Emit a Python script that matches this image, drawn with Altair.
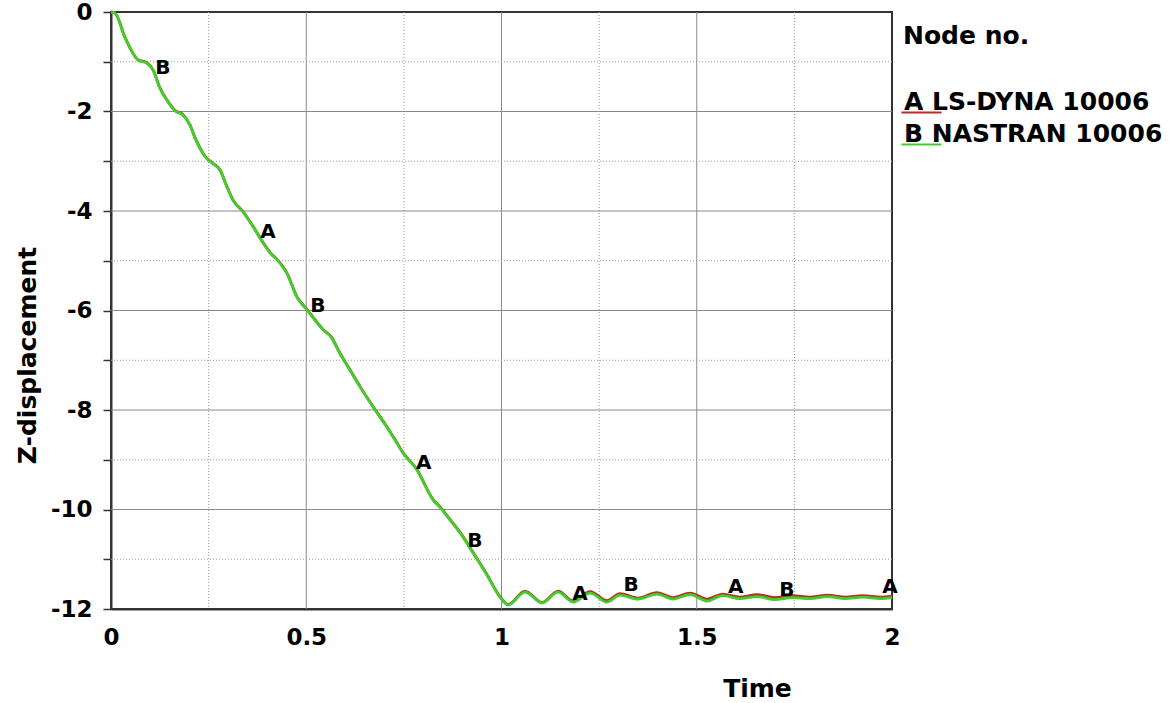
import altair as alt
import pandas as pd

# ---- data ----
t_nastran = [0.0, 0.01, 0.036, 0.054, 0.069, 0.092, 0.108, 0.125, 0.146, 0.164, 0.184, 0.202,
             0.215, 0.241, 0.259, 0.279, 0.297, 0.312, 0.338, 0.364, 0.389, 0.407, 0.433, 0.45,
             0.476, 0.502, 0.543, 0.565, 0.585, 0.612, 0.638, 0.671, 0.706, 0.727, 0.748, 0.783,
             0.825, 0.842, 0.868, 0.894, 0.927, 0.963, 0.996,
             1.017, 1.06, 1.104, 1.145, 1.183, 1.227, 1.27, 1.303, 1.35, 1.398, 1.439, 1.483,
             1.526, 1.567, 1.61, 1.655, 1.70, 1.745, 1.79, 1.835, 1.88, 1.925, 1.97, 2.0]
z_nastran = [0.0, -0.02, -0.52, -0.80, -0.965, -1.03, -1.17, -1.53, -1.81, -1.99, -2.07, -2.27,
             -2.53, -2.91, -3.04, -3.18, -3.52, -3.78, -4.02, -4.32, -4.64, -4.84, -5.05, -5.25,
             -5.73, -5.99, -6.39, -6.55, -6.85, -7.2, -7.54, -7.94, -8.34, -8.6, -8.87, -9.2,
             -9.81, -9.95, -10.21, -10.47, -10.87, -11.32, -11.76,
             -11.92, -11.66, -11.88, -11.66, -11.86, -11.68, -11.86, -11.72, -11.80, -11.70, -11.80, -11.71,
             -11.84, -11.73, -11.79, -11.75, -11.81, -11.77, -11.79, -11.75, -11.79, -11.76, -11.79, -11.77]

t_lsdyna = t_nastran
z_lsdyna = [0.0, -0.02, -0.51, -0.80, -0.96, -1.02, -1.17, -1.52, -1.80, -1.98, -2.06, -2.27,
            -2.52, -2.90, -3.03, -3.17, -3.51, -3.77, -4.01, -4.31, -4.63, -4.83, -5.04, -5.24,
            -5.72, -5.98, -6.38, -6.54, -6.84, -7.19, -7.53, -7.93, -8.33, -8.59, -8.86, -9.19,
            -9.80, -9.94, -10.20, -10.46, -10.86, -11.31, -11.75,
            -11.91, -11.64, -11.87, -11.64, -11.84, -11.65, -11.83, -11.69, -11.78, -11.67, -11.77, -11.68,
            -11.80, -11.70, -11.76, -11.71, -11.77, -11.73, -11.76, -11.72, -11.76, -11.73, -11.76, -11.74]

series_names = ["A LS-DYNA 10006", "B NASTRAN 10006"]
series_colors = ["#c0282a", "#3fd12a"]
legend_title = ["Node no."]

label_letters = ["B", "A", "B", "A", "B", "A", "B", "A", "B", "A"]
label_t = [0.133, 0.402, 0.530, 0.801, 0.932, 1.201, 1.332, 1.600, 1.731, 1.995]
label_z = [-1.13, -4.42, -5.91, -9.07, -10.63, -11.70, -11.52, -11.56, -11.62, -11.56]

x_major = [0.5, 1.0, 1.5]
x_minor = [0.25, 0.75, 1.25, 1.75]
y_major = [-2, -4, -6, -8, -10]
y_minor = [-1, -3, -5, -7, -9, -11]

x_ticks = [0, 0.5, 1, 1.5, 2]
y_ticks = list(range(0, -13, -1))

FONT = "DejaVu Sans"

lines_df = pd.concat([
    pd.DataFrame({"t": t_lsdyna, "z": z_lsdyna, "series": series_names[0]}),
    pd.DataFrame({"t": t_nastran, "z": z_nastran, "series": series_names[1]}),
])
labels_df = pd.DataFrame({"t": label_t, "z": label_z, "letter": label_letters})

x_scale = alt.Scale(domain=[0, 2], nice=False, zero=False)
y_scale = alt.Scale(domain=[-12, 0], nice=False, zero=False)

x_axis = alt.Axis(values=x_ticks, labelExpr="'' + datum.value", title="Time",
                  grid=False, ticks=False, labelPadding=17, labelFlush=False, labelOverlap=False,
                  labelFont=FONT, labelFontSize=23, labelFontWeight="bold", labelColor="black",
                  titleFont=FONT, titleFontSize=25, titleFontWeight="bold", titleColor="black",
                  titleX=646, titleY=79, titleBaseline="middle", titleAlign="center",
                  domainColor="#333333", domainWidth=2)
y_axis = alt.Axis(values=y_ticks, labelExpr="datum.value % 2 == 0 ? '' + datum.value : ''",
                  title="Z-displacement", grid=False, tickSize=8, tickColor="#333333", tickWidth=1.5,
                  labelPadding=11, labelFlush=False, labelOverlap=False,
                  labelFont=FONT, labelFontSize=23, labelFontWeight="bold", labelColor="black",
                  titleFont=FONT, titleFontSize=25, titleFontWeight="bold", titleColor="black",
                  titleX=-84, titleY=343, titleAngle=270, titleBaseline="middle", titleAlign="center",
                  domainColor="#333333", domainWidth=2)


def vrules(vals, dash, color):
    return alt.Chart(pd.DataFrame({"t": vals})).mark_rule(
        color=color, strokeWidth=1, strokeDash=dash).encode(
        x=alt.X("t:Q", scale=x_scale, axis=x_axis))


def hrules(vals, dash, color):
    return alt.Chart(pd.DataFrame({"z": vals})).mark_rule(
        color=color, strokeWidth=1, strokeDash=dash).encode(
        y=alt.Y("z:Q", scale=y_scale, axis=y_axis))


grid = (vrules(x_minor, [1, 2], "#9a9a9a") + vrules(x_major, [1, 0], "#8a8a8a") +
        hrules(y_minor, [1, 2], "#9a9a9a") + hrules(y_major, [1, 0], "#8a8a8a"))

lines = alt.Chart(lines_df).mark_line(strokeWidth=2.8, interpolate="monotone").encode(
    x=alt.X("t:Q", scale=x_scale, axis=x_axis),
    y=alt.Y("z:Q", scale=y_scale, axis=y_axis),
    color=alt.Color("series:N", scale=alt.Scale(domain=series_names, range=series_colors),
                    legend=alt.Legend(orient="none", legendX=768, legendY=85, title=None,
                                      padding=0,
                                      labelFont=FONT, labelFontSize=25, labelFontWeight="bold",
                                      labelColor="black", labelBaseline="alphabetic",
                                      labelLimit=500, labelOffset=0,
                                      symbolType="M 5 1.5 L 25 1.5", symbolSize=16,
                                      symbolStrokeWidth=2,
                                      rowPadding=4, direction="vertical")),
    order=alt.Order("t:Q"),
)

letters = alt.Chart(labels_df).mark_text(
    font=FONT, fontSize=20, fontWeight="bold", color="black", align="center", baseline="middle"
).encode(
    x=alt.X("t:Q", scale=x_scale, axis=x_axis),
    y=alt.Y("z:Q", scale=y_scale, axis=y_axis),
    text="letter:N",
)

# legend heading, placed beside the plot like the legend itself
legend_heading = alt.Chart(pd.DataFrame({"txt": legend_title})).mark_text(
    font=FONT, fontSize=25, fontWeight="bold", color="black", align="left", baseline="alphabetic"
).encode(
    x=alt.value(792), y=alt.value(32), text="txt:N",
)

chart = alt.layer(grid, lines, letters, legend_heading).properties(
    width=781, height=597,
    autosize=alt.AutoSizeParams(type="none"),
    padding={"left": 111, "top": 12, "right": 281, "bottom": 94},
    background="white",
).configure_view(stroke="#333333", strokeWidth=2, clip=False)

chart.save("out.html", embed_options={"renderer": "svg", "actions": False})
